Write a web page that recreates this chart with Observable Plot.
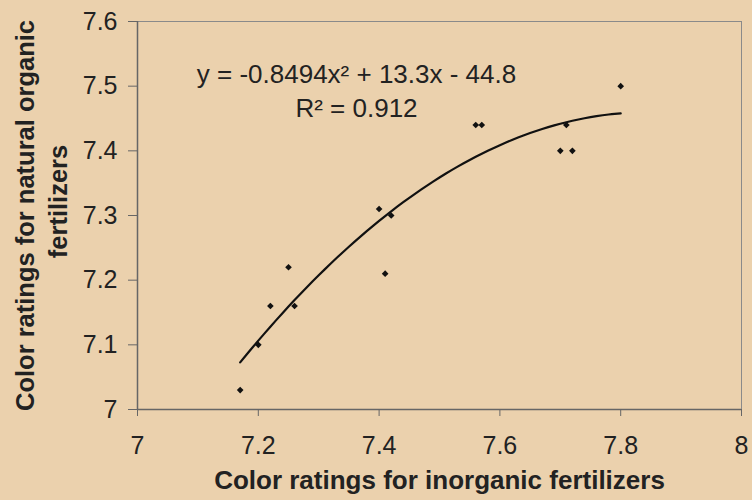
<!DOCTYPE html>
<html>
<head>
<meta charset="utf-8">
<script src="https://cdn.jsdelivr.net/npm/d3@7"></script>
<script src="https://cdn.jsdelivr.net/npm/@observablehq/plot@0.6"></script>
<style>
  html, body { margin: 0; padding: 0; background: #ebd1ad; }
  #chart { width: 752px; height: 500px; }
</style>
</head>
<body>
<div id="chart"></div>
<script>
// Data
const inorganic = [7.17, 7.20, 7.22, 7.25, 7.26, 7.40, 7.41, 7.42, 7.56, 7.57, 7.70, 7.71, 7.72, 7.80];
const organic   = [7.03, 7.10, 7.16, 7.22, 7.16, 7.31, 7.21, 7.30, 7.44, 7.44, 7.40, 7.44, 7.40, 7.50];
const xTicks = [7, 7.2, 7.4, 7.6, 7.8, 8];
const yTicks = [7, 7.1, 7.2, 7.3, 7.4, 7.5, 7.6];
const equationText = "y = -0.8494x² + 13.3x - 44.8";
const r2Text = "R² = 0.912";
const xTitle = "Color ratings for inorganic fertilizers";
const yTitle1 = "Color ratings for natural organic";
const yTitle2 = "fertilizers";

const points = inorganic.map((x, i) => ({x, y: organic[i]}));

// Least-squares quadratic trend line fitted to the points
function quadFit(xs, ys) {
  const m = d3.mean(xs);
  const S = [0,0,0,0,0], T = [0,0,0];
  xs.forEach((x0, i) => {
    const x = x0 - m;
    for (let k = 0; k < 5; k++) S[k] += x ** k;
    for (let k = 0; k < 3; k++) T[k] += ys[i] * x ** k;
  });
  const A = [[S[0],S[1],S[2]],[S[1],S[2],S[3]],[S[2],S[3],S[4]]];
  const det = M => M[0][0]*(M[1][1]*M[2][2]-M[1][2]*M[2][1]) - M[0][1]*(M[1][0]*M[2][2]-M[1][2]*M[2][0]) + M[0][2]*(M[1][0]*M[2][1]-M[1][1]*M[2][0]);
  const D = det(A);
  const coef = [0,1,2].map(c => det(A.map((row, r) => row.map((v, j) => j === c ? T[r] : v))) / D);
  return x => coef[0] + coef[1]*(x-m) + coef[2]*(x-m)**2;
}
const f = quadFit(inorganic, organic);
const xs = d3.range(d3.min(inorganic), d3.max(inorganic) + 1e-9, 0.01);
const trend = xs.map(x => ({x, y: f(x)}));

const font = "Liberation Sans, Arial, sans-serif";
const fmt = d => `${+d.toFixed(1)}`;

const chart = Plot.plot({
  width: 752,
  height: 500,
  marginLeft: 137,
  marginRight: 11,
  marginTop: 21,
  marginBottom: 91,
  style: {background: "#ebd1ad", color: "#222", fontFamily: font},
  x: {domain: [7, 8]},
  y: {domain: [7, 7.6]},
  marks: [
    Plot.frame({stroke: "#8a8a8a", strokeWidth: 1}),
    Plot.ruleX([7], {stroke: "#666", strokeWidth: 1.5}),
    Plot.ruleY([7], {stroke: "#666", strokeWidth: 1.5}),
    Plot.axisX({ticks: xTicks, tickFormat: fmt, tickSize: 7, tickPadding: 20, fontSize: 25, stroke: "#666", label: null}),
    Plot.axisY({ticks: yTicks, tickFormat: fmt, tickSize: 9, tickPadding: 11, fontSize: 25, stroke: "#666", label: null}),
    Plot.line(trend, {x: "x", y: "y", stroke: "#111", strokeWidth: 2.2, curve: "natural"}),
    Plot.dot(points, {x: "x", y: "y", symbol: "diamond2", r: 3, fill: "#111", stroke: null}),
    Plot.text([equationText], {frameAnchor: "top-left", dx: 219, dy: 43, fontSize: 26, fill: "#222", textAnchor: "middle"}),
    Plot.text([r2Text], {frameAnchor: "top-left", dx: 219, dy: 77, fontSize: 26, fill: "#222", textAnchor: "middle"}),
    Plot.text([xTitle], {frameAnchor: "bottom", dy: 79, fontSize: 26, fontWeight: "bold", fill: "#222", textAnchor: "middle"}),
    Plot.text([yTitle1], {frameAnchor: "left", dx: -112, rotate: -90, fontSize: 25.5, fontWeight: "bold", fill: "#222", textAnchor: "middle"}),
    Plot.text([yTitle2], {frameAnchor: "left", dx: -79, dy: -14, rotate: -90, fontSize: 25.5, fontWeight: "bold", fill: "#222", textAnchor: "middle"})
  ]
});
document.getElementById("chart").appendChild(chart);
</script>
</body>
</html>
